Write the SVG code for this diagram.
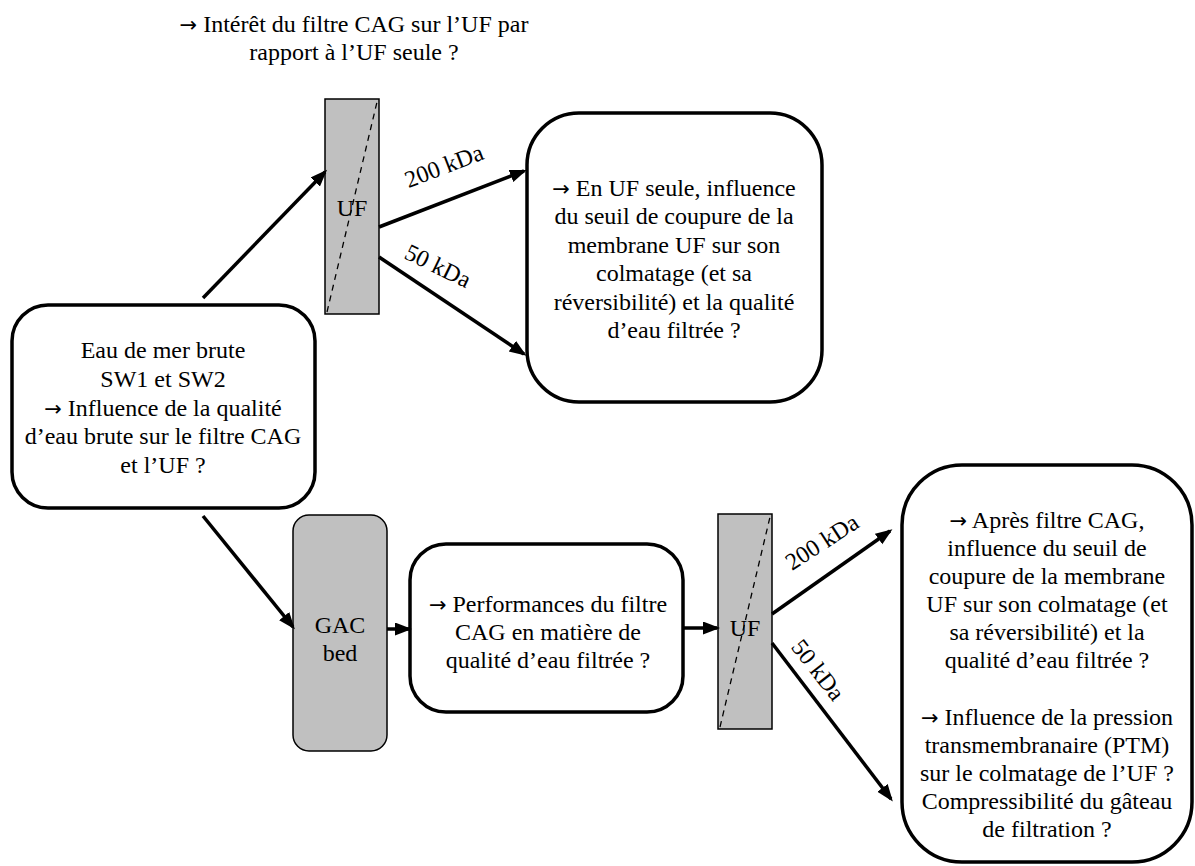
<svg xmlns="http://www.w3.org/2000/svg" width="1195" height="866" viewBox="0 0 1195 866">
<defs>
<marker id="ah" markerUnits="userSpaceOnUse" markerWidth="18" markerHeight="14" refX="14" refY="6.5" orient="auto">
<path d="M0,0 L17,6.5 L0,13 Z" fill="#000"/>
</marker>
</defs>
<style>
.box{fill:#fff;stroke:#000;stroke-width:3.5}
.uf{fill:#c0c0c0;stroke:#000;stroke-width:1.5}
.dash{fill:none;stroke:#000;stroke-width:1.3;stroke-dasharray:6,5}
.conn line{stroke:#000;stroke-width:3.5;marker-end:url(#ah)}
</style>
<rect width="1195" height="866" fill="#fff"/>
<g id="title">
<text x="354" y="32" font-family="Liberation Serif" font-size="24" text-anchor="middle"><tspan font-family="DejaVu Sans" font-size="21">→</tspan> Intérêt du filtre CAG sur l’UF par</text>
<text x="354" y="60" font-family="Liberation Serif" font-size="24" text-anchor="middle">rapport à l’UF seule ?</text>
</g>
<g id="eau">
<rect class="box" x="12" y="305" width="303" height="203" rx="36"/>
<text x="163" y="358" font-family="Liberation Serif" font-size="24" text-anchor="middle">Eau de mer brute</text>
<text x="163" y="387" font-family="Liberation Serif" font-size="24" text-anchor="middle">SW1 et SW2</text>
<text x="163" y="416" font-family="Liberation Serif" font-size="24" text-anchor="middle"><tspan font-family="DejaVu Sans" font-size="21">→</tspan> Influence de la qualité</text>
<text x="163" y="444" font-family="Liberation Serif" font-size="24" text-anchor="middle">d’eau brute sur le filtre CAG</text>
<text x="163" y="473" font-family="Liberation Serif" font-size="24" text-anchor="middle">et l’UF ?</text>
</g>
<g id="uf1">
<rect class="uf" x="325" y="99" width="54" height="215"/>
<line class="dash" x1="327" y1="312" x2="377" y2="102"/>
<text x="352" y="216" font-family="Liberation Serif" font-size="24" text-anchor="middle">UF</text>
</g>
<g id="q1">
<rect class="box" x="527" y="113" width="295" height="289" rx="52"/>
<text x="674" y="196" font-family="Liberation Serif" font-size="24" text-anchor="middle"><tspan font-family="DejaVu Sans" font-size="21">→</tspan> En UF seule, influence</text>
<text x="674" y="224" font-family="Liberation Serif" font-size="24" text-anchor="middle">du seuil de coupure de la</text>
<text x="674" y="253" font-family="Liberation Serif" font-size="24" text-anchor="middle">membrane UF sur son</text>
<text x="674" y="281" font-family="Liberation Serif" font-size="24" text-anchor="middle">colmatage (et sa</text>
<text x="674" y="310" font-family="Liberation Serif" font-size="24" text-anchor="middle">réversibilité) et la qualité</text>
<text x="674" y="338" font-family="Liberation Serif" font-size="24" text-anchor="middle">d’eau filtrée ?</text>
</g>
<g id="gac">
<rect class="uf" x="293" y="515" width="94" height="236" rx="16"/>
<text x="340" y="633" font-family="Liberation Serif" font-size="24" text-anchor="middle">GAC</text>
<text x="340" y="661" font-family="Liberation Serif" font-size="24" text-anchor="middle">bed</text>
</g>
<g id="perf">
<rect class="box" x="410" y="544" width="273" height="168" rx="36"/>
<text x="548" y="612" font-family="Liberation Serif" font-size="24" text-anchor="middle"><tspan font-family="DejaVu Sans" font-size="21">→</tspan> Performances du filtre</text>
<text x="548" y="640" font-family="Liberation Serif" font-size="24" text-anchor="middle">CAG en matière de</text>
<text x="548" y="668" font-family="Liberation Serif" font-size="24" text-anchor="middle">qualité d’eau filtrée ?</text>
</g>
<g id="uf2">
<rect class="uf" x="718" y="514" width="54" height="215"/>
<line class="dash" x1="720" y1="727" x2="770" y2="517"/>
<text x="745" y="636" font-family="Liberation Serif" font-size="24" text-anchor="middle">UF</text>
</g>
<g id="q2">
<rect class="box" x="902" y="465" width="290" height="397" rx="60"/>
<text x="1047" y="528" font-family="Liberation Serif" font-size="24" text-anchor="middle"><tspan font-family="DejaVu Sans" font-size="21">→</tspan> Après filtre CAG,</text>
<text x="1047" y="556" font-family="Liberation Serif" font-size="24" text-anchor="middle">influence du seuil de</text>
<text x="1047" y="584" font-family="Liberation Serif" font-size="24" text-anchor="middle">coupure de la membrane</text>
<text x="1047" y="612" font-family="Liberation Serif" font-size="24" text-anchor="middle">UF sur son colmatage (et</text>
<text x="1047" y="640" font-family="Liberation Serif" font-size="24" text-anchor="middle">sa réversibilité) et la</text>
<text x="1047" y="668" font-family="Liberation Serif" font-size="24" text-anchor="middle">qualité d’eau filtrée ?</text>
<text x="1047" y="725" font-family="Liberation Serif" font-size="24" text-anchor="middle"><tspan font-family="DejaVu Sans" font-size="21">→</tspan> Influence de la pression</text>
<text x="1047" y="753" font-family="Liberation Serif" font-size="24" text-anchor="middle">transmembranaire (PTM)</text>
<text x="1047" y="781" font-family="Liberation Serif" font-size="24" text-anchor="middle">sur le colmatage de l’UF ?</text>
<text x="1047" y="809" font-family="Liberation Serif" font-size="24" text-anchor="middle">Compressibilité du gâteau</text>
<text x="1047" y="837" font-family="Liberation Serif" font-size="24" text-anchor="middle">de filtration ?</text>
</g>
<g id="connectors" class="conn">
<line x1="203" y1="298" x2="325" y2="172"/>
<line x1="379" y1="227" x2="524" y2="171"/>
<line x1="379" y1="257" x2="524" y2="354"/>
<line x1="203" y1="516" x2="293" y2="627"/>
<line x1="387" y1="629" x2="409" y2="629"/>
<line x1="683" y1="628" x2="717" y2="628"/>
<line x1="772" y1="614" x2="890" y2="531"/>
<line x1="772" y1="643" x2="891" y2="799"/>
</g>
<g id="labels">
<text transform="translate(444,166) rotate(-21)" y="8" font-family="Liberation Serif" font-size="24" text-anchor="middle">200 kDa</text>
<text transform="translate(438,266) rotate(26)" y="8" font-family="Liberation Serif" font-size="24" text-anchor="middle">50 kDa</text>
<text transform="translate(822,542) rotate(-33)" y="8" font-family="Liberation Serif" font-size="24" text-anchor="middle">200 kDa</text>
<text transform="translate(818,670) rotate(52)" y="8" font-family="Liberation Serif" font-size="24" text-anchor="middle">50 kDa</text>
</g>
</svg>
